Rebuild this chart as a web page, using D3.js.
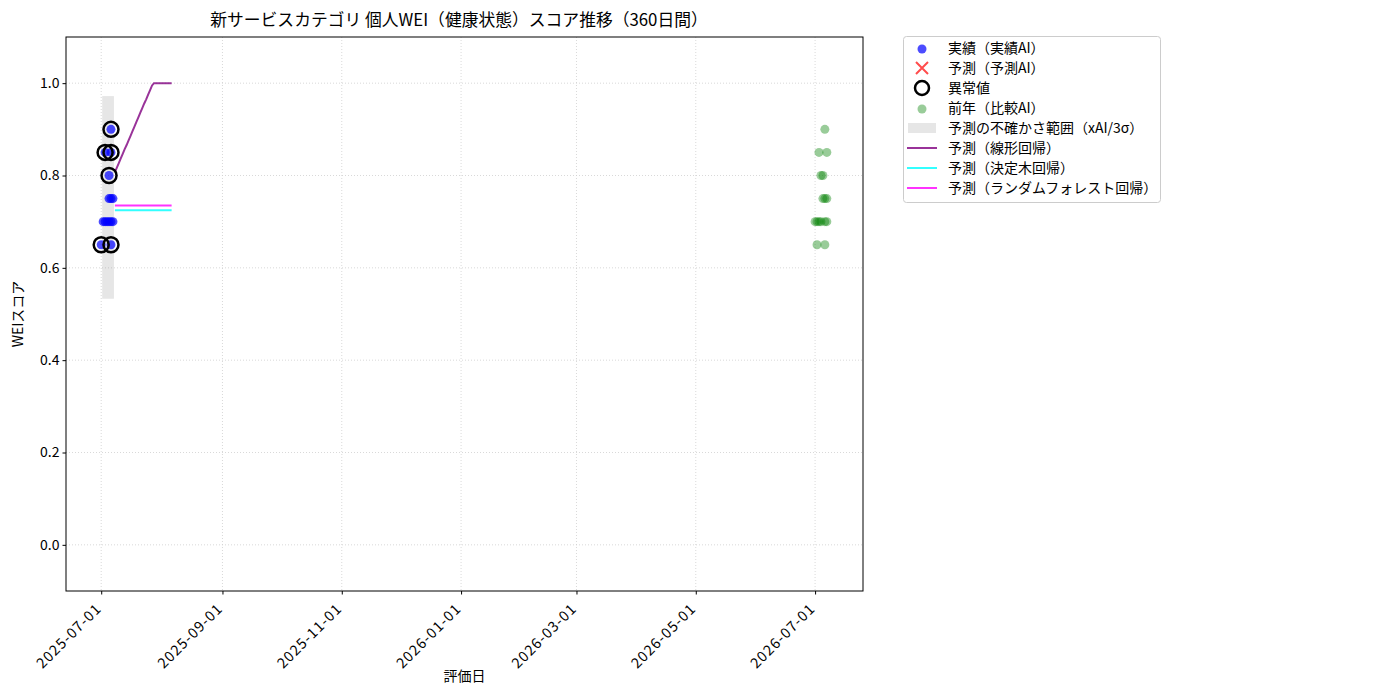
<!DOCTYPE html>
<html><head><meta charset="utf-8">
<script src="https://cdn.jsdelivr.net/npm/d3@7"></script>
<style>
body{margin:0;background:#fff;}
text{font-family:"Noto Sans CJK JP","Noto Sans",sans-serif;}
</style></head>
<body><svg id="c" width="1400" height="700"></svg>
<script>
// ---- data ----
const title = "新サービスカテゴリ 個人WEI（健康状態）スコア推移（360日間）";
const xLabel = "評価日";
const yLabel = "WEIスコア";
const xTickDates = ["2025-07-01","2025-09-01","2025-11-01","2026-01-01","2026-03-01","2026-05-01","2026-07-01"];
const yTicks = [0.0,0.2,0.4,0.6,0.8,1.0];

const actualDates = ["2025-07-06","2025-07-03","2025-07-06","2025-07-05","2025-07-05","2025-07-06","2025-07-07",
  "2025-07-02","2025-07-03","2025-07-04","2025-07-05","2025-07-06","2025-07-07","2025-07-01","2025-07-06"];
const actualValues = [0.90,0.85,0.85,0.80,0.75,0.75,0.75,0.70,0.70,0.70,0.70,0.70,0.70,0.65,0.65];
const outlierDates = ["2025-07-06","2025-07-03","2025-07-06","2025-07-05","2025-07-01","2025-07-06"];
const outlierValues = [0.90,0.85,0.85,0.80,0.65,0.65];

const prevDates = ["2026-07-06","2026-07-03","2026-07-07","2026-07-04","2026-07-05","2026-07-05","2026-07-06","2026-07-07",
  "2026-07-01","2026-07-02","2026-07-03","2026-07-04","2026-07-06","2026-07-07","2026-07-02","2026-07-06"];
const prevValues = [0.90,0.85,0.85,0.80,0.80,0.75,0.75,0.75,0.70,0.70,0.70,0.70,0.70,0.70,0.65,0.65];

const bandStart = "2025-07-01T12:00";
const bandEnd = "2025-07-07T12:00";
const bandLow = 0.533;
const bandHigh = 0.972;

const predDates = ["2025-07-08","2025-07-09","2025-07-10","2025-07-11","2025-07-12","2025-07-13","2025-07-14","2025-07-15",
  "2025-07-16","2025-07-17","2025-07-18","2025-07-19","2025-07-20","2025-07-21","2025-07-22","2025-07-23","2025-07-24",
  "2025-07-25","2025-07-26","2025-07-27","2025-07-28","2025-07-29","2025-07-30","2025-07-31","2025-08-01","2025-08-02",
  "2025-08-03","2025-08-04","2025-08-05","2025-08-06"];
const predLinear = [0.807,0.817,0.827,0.837,0.847,0.857,0.866,0.876,0.886,0.896,0.906,0.916,0.926,0.936,0.946,0.956,
  0.965,0.975,0.985,0.995,1.0,1.0,1.0,1.0,1.0,1.0,1.0,1.0,1.0,1.0];
const predTree = [0.725,0.725,0.725,0.725,0.725,0.725,0.725,0.725,0.725,0.725,0.725,0.725,0.725,0.725,0.725,
  0.725,0.725,0.725,0.725,0.725,0.725,0.725,0.725,0.725,0.725,0.725,0.725,0.725,0.725,0.725];
const predForest = [0.735,0.735,0.735,0.735,0.735,0.735,0.735,0.735,0.735,0.735,0.735,0.735,0.735,0.735,0.735,
  0.735,0.735,0.735,0.735,0.735,0.735,0.735,0.735,0.735,0.735,0.735,0.735,0.735,0.735,0.735];

const legendLabels = ["実績（実績AI）","予測（予測AI）","異常値","前年（比較AI）","予測の不確かさ範囲（xAI/3σ）",
  "予測（線形回帰）","予測（決定木回帰）","予測（ランダムフォレスト回帰）"];

// ---- chart ----
const P = d3.timeParse("%Y-%m-%d"), PT = d3.timeParse("%Y-%m-%dT%H:%M");
const svg = d3.select("#c");
const L = 66, T = 37, W = 797, H = 554;
const x = d3.scaleTime().domain([P("2025-06-13"), new Date(2026,6,25,12)]).range([L, L+W]);
const y = d3.scaleLinear().domain([-0.1, 1.1]).range([T+H, T]);

// grid
const g = svg.append("g");
g.selectAll(".gx").data(xTickDates).join("line")
  .attr("x1", d=>x(P(d))).attr("x2", d=>x(P(d))).attr("y1", T).attr("y2", T+H)
  .attr("stroke","#cfcfcf").attr("stroke-width",0.8).attr("stroke-dasharray","1,2");
g.selectAll(".gy").data(yTicks).join("line")
  .attr("x1", L).attr("x2", L+W).attr("y1", d=>y(d)).attr("y2", d=>y(d))
  .attr("stroke","#cfcfcf").attr("stroke-width",0.8).attr("stroke-dasharray","1,2");

// band
svg.append("rect").attr("x", x(PT(bandStart))).attr("width", x(PT(bandEnd))-x(PT(bandStart)))
  .attr("y", y(bandHigh)).attr("height", y(bandLow)-y(bandHigh))
  .attr("fill","#808080").attr("fill-opacity",0.2);

// lines
const line = (vals) => d3.line().x((d,i)=>x(P(predDates[i]))).y(d=>y(d))(vals);
svg.append("path").attr("d", line(predLinear)).attr("fill","none").attr("stroke","purple").attr("stroke-opacity",0.8).attr("stroke-width",2);
svg.append("path").attr("d", line(predTree)).attr("fill","none").attr("stroke","cyan").attr("stroke-opacity",0.8).attr("stroke-width",2);
svg.append("path").attr("d", line(predForest)).attr("fill","none").attr("stroke","magenta").attr("stroke-opacity",0.8).attr("stroke-width",2);

// actual points
svg.selectAll(".act").data(actualValues).join("circle")
  .attr("cx",(d,i)=>x(P(actualDates[i]))).attr("cy",d=>y(d)).attr("r",4.5)
  .attr("fill","blue").attr("fill-opacity",0.7);
// outliers
svg.selectAll(".out").data(outlierValues).join("circle")
  .attr("cx",(d,i)=>x(P(outlierDates[i]))).attr("cy",d=>y(d)).attr("r",7.5)
  .attr("fill","none").attr("stroke","black").attr("stroke-width",2.5);
// prev year
svg.selectAll(".prev").data(prevValues).join("circle")
  .attr("cx",(d,i)=>x(P(prevDates[i]))).attr("cy",d=>y(d)).attr("r",4.5)
  .attr("fill","green").attr("fill-opacity",0.4);

// axes
const xa = svg.append("g").attr("transform",`translate(0,${T+H})`)
  .call(d3.axisBottom(x).tickValues(xTickDates.map(P)).tickFormat(d3.timeFormat("%Y-%m-%d")).tickSize(3.5).tickSizeOuter(0));
xa.selectAll("text").attr("font-size",14.5).attr("letter-spacing","1px").attr("fill","#000").attr("text-anchor","end")
  .attr("transform","translate(-3,15) rotate(-45)").attr("dy","0.35em").attr("y",0).attr("x",0);
const ya = svg.append("g").attr("transform",`translate(${L},0)`)
  .call(d3.axisLeft(y).tickValues(yTicks).tickFormat(d3.format(".1f")).tickSize(3.5).tickSizeOuter(0));
ya.selectAll("text").attr("font-size",14).attr("fill","#000");
[xa,ya].forEach(a=>{a.select(".domain").remove(); a.selectAll("line").attr("stroke","#000");});
svg.append("rect").attr("x",L).attr("y",T).attr("width",W).attr("height",H).attr("fill","none").attr("stroke","#000").attr("stroke-width",1);

// titles
svg.append("text").attr("x", 459).attr("y", 26).attr("text-anchor","middle").attr("font-size",16.8).text(title);
svg.append("text").attr("x", L+W/2).attr("y", 681).attr("text-anchor","middle").attr("font-size",14).text(xLabel);
svg.append("text").attr("transform",`translate(23,${T+H/2}) rotate(-90)`).attr("text-anchor","middle").attr("font-size",14).text(yLabel);

// legend
const lg = svg.append("g");
lg.append("rect").attr("x",903.5).attr("y",36.5).attr("width",257).attr("height",166).attr("rx",3)
  .attr("fill","#fff").attr("stroke","#ccc");
const ly = [48,68,88,108,128,148,168,188];
const mx = 922;
lg.append("circle").attr("cx",mx).attr("cy",ly[0]+1).attr("r",4.5).attr("fill","blue").attr("fill-opacity",0.7);
lg.append("path").attr("d",`M${mx-6},${ly[1]-6}L${mx+6},${ly[1]+6}M${mx-6},${ly[1]+6}L${mx+6},${ly[1]-6}`)
  .attr("stroke","red").attr("stroke-opacity",0.7).attr("stroke-width",2);
lg.append("circle").attr("cx",mx).attr("cy",ly[2]).attr("r",7).attr("fill","none").attr("stroke","black").attr("stroke-width",2.5);
lg.append("circle").attr("cx",mx).attr("cy",ly[3]+1).attr("r",4.5).attr("fill","green").attr("fill-opacity",0.4);
lg.append("rect").attr("x",908).attr("y",ly[4]-5).attr("width",28).attr("height",10).attr("fill","#808080").attr("fill-opacity",0.2);
[["purple",0.8],["cyan",0.8],["magenta",0.8]].forEach((c,i)=>{
  lg.append("line").attr("x1",907).attr("x2",937).attr("y1",ly[5+i]).attr("y2",ly[5+i])
    .attr("stroke",c[0]).attr("stroke-opacity",c[1]).attr("stroke-width",2);
});
lg.selectAll(".lt").data(legendLabels).join("text").attr("x",948).attr("y",(d,i)=>ly[i]).attr("dy","0.35em")
  .attr("font-size",14).text(d=>d);
</script></body></html>
